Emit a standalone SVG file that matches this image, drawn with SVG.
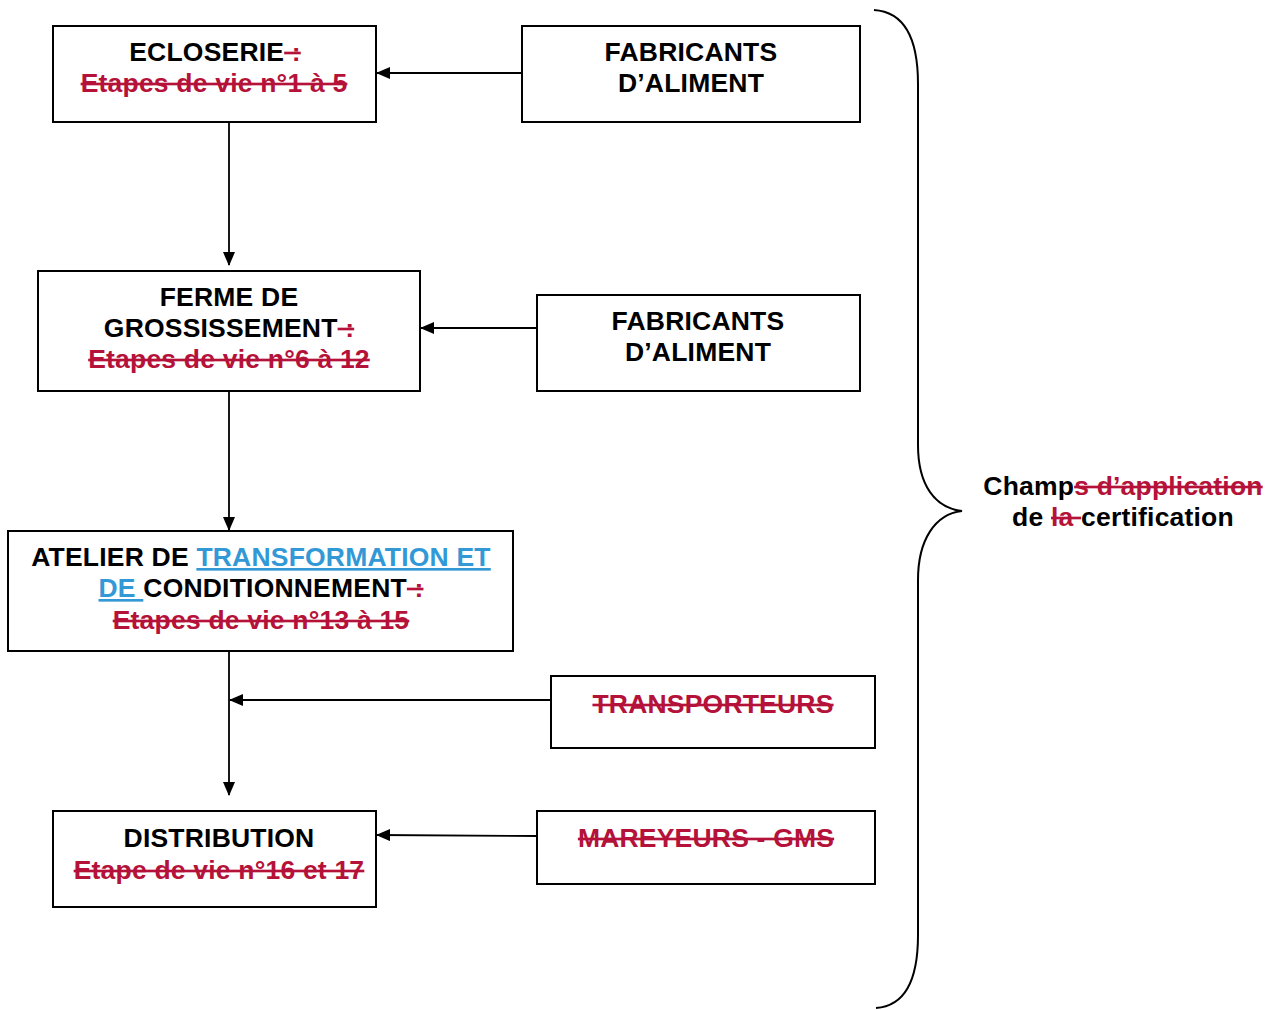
<svg xmlns="http://www.w3.org/2000/svg" width="1281" height="1010" viewBox="0 0 1281 1010">
  <style>
    .box { fill: #ffffff; stroke: #000000; stroke-width: 2; }
    .t { font-family: "Liberation Sans", Arial, sans-serif; font-weight: bold; font-size: 26.5px; letter-spacing: 0.2px; fill: #000000; text-anchor: middle; }
    .del { fill: #b5123a; text-decoration: line-through; }
    .ins { fill: #3399d6; text-decoration: underline; }
    .edge { fill: none; stroke: #000000; stroke-width: 1.8; marker-end: url(#arrow); }
    .brace { fill: none; stroke: #000000; stroke-width: 2; }
  </style>
  <defs>
    <marker id="arrow" markerWidth="14" markerHeight="12" refX="13" refY="6" orient="auto" markerUnits="userSpaceOnUse">
      <path d="M0,0 L14,6 L0,12 Z" fill="#000000"/>
    </marker>
  </defs>
  <rect width="1281" height="1010" fill="#ffffff"/>

  <g id="connectors">
    <path class="edge" d="M522,73 L377,73"/>
    <path class="edge" d="M229,122 L229,265"/>
    <path class="edge" d="M537,328 L421,328"/>
    <path class="edge" d="M229,391 L229,530"/>
    <path class="edge" d="M229,651 L229,795"/>
    <path class="edge" d="M551,700 L230,700"/>
    <path class="edge" d="M537,836 L377,835"/>
  </g>

  <g id="ecloserie">
    <rect class="box" x="53" y="26" width="323" height="96"/>
    <text class="t" x="215" y="61">ECLOSERIE<tspan class="del"> :</tspan></text>
    <text class="t" x="214" y="92"><tspan class="del">Etapes de vie n°1 à 5</tspan></text>
  </g>

  <g id="fabricants-1">
    <rect class="box" x="522" y="26" width="338" height="96"/>
    <text class="t" x="691" y="61">FABRICANTS</text>
    <text class="t" x="691" y="92">D’ALIMENT</text>
  </g>

  <g id="ferme">
    <rect class="box" x="38" y="271" width="382" height="120"/>
    <text class="t" x="229" y="306">FERME DE</text>
    <text class="t" x="229" y="337">GROSSISSEMENT<tspan class="del"> :</tspan></text>
    <text class="t" x="229" y="368"><tspan class="del">Etapes de vie n°6 à 12</tspan></text>
  </g>

  <g id="fabricants-2">
    <rect class="box" x="537" y="295" width="323" height="96"/>
    <text class="t" x="698" y="330">FABRICANTS</text>
    <text class="t" x="698" y="361">D’ALIMENT</text>
  </g>

  <g id="atelier">
    <rect class="box" x="8" y="531" width="505" height="120"/>
    <text class="t" x="261" y="566">ATELIER DE <tspan class="ins">TRANSFORMATION ET</tspan></text>
    <text class="t" x="261" y="597"><tspan class="ins">DE </tspan>CONDITIONNEMENT<tspan class="del"> :</tspan></text>
    <text class="t" x="261" y="629"><tspan class="del">Etapes de vie n°13 à 15</tspan></text>
  </g>

  <g id="transporteurs">
    <rect class="box" x="551" y="676" width="324" height="72"/>
    <text class="t" x="713" y="713"><tspan class="del">TRANSPORTEURS</tspan></text>
  </g>

  <g id="distribution">
    <rect class="box" x="53" y="811" width="323" height="96"/>
    <text class="t" x="219" y="847">DISTRIBUTION</text>
    <text class="t" x="219" y="879"><tspan class="del">Etape de vie n°16 et 17</tspan></text>
  </g>

  <g id="mareyeurs">
    <rect class="box" x="537" y="811" width="338" height="73"/>
    <text class="t" x="706" y="847"><tspan class="del">MAREYEURS - GMS</tspan></text>
  </g>

  <g id="champ">
    <path class="brace" d="M874,10 C905,12 918,40 918,84 L918,445 C918,485 935,508 962,511 C935,514 918,540 918,580 L918,935 C918,980 905,1006 876,1008"/>
    <text class="t" x="1123" y="495">Champ<tspan class="del">s d’application</tspan></text>
    <text class="t" x="1123" y="526">de <tspan class="del">la </tspan>certification</text>
  </g>
</svg>
